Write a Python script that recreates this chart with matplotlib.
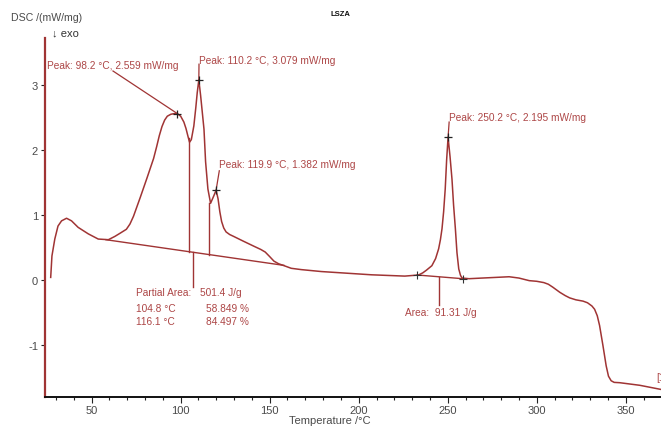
import matplotlib
matplotlib.use("Agg")
import matplotlib.pyplot as plt
from matplotlib.ticker import MultipleLocator

plt.rcParams['font.family'] = ['Liberation Sans', 'DejaVu Sans']
plt.rcParams['axes.unicode_minus'] = False

# ---------------- data ----------------
temp = [27.0, 27.7, 29.3, 31.1, 33.1, 35.9, 38.7, 42.4, 48.1, 53.7, 59.4, 63.0,
        66.0, 69.5, 71.5, 73.5, 77.3, 81.1, 84.8, 86.5, 88.0, 89.5, 91.0, 92.5,
        94.5, 96.5, 98.2, 100.0, 101.8, 103.0, 104.2, 105.0, 106.0, 107.4,
        108.5, 109.3, 110.2, 111.2, 113.1, 114.0, 115.3, 116.8, 118.7, 119.9,
        121.0, 122.0, 123.0, 124.2, 125.5, 127.5, 129.8, 135.0, 141.1, 145.0,
        147.5, 150.0, 152.4, 155.0, 158.1, 162.1, 167.7, 179.0, 207.2, 225.9,
        233.6, 236.0, 238.0, 241.1, 243.2, 244.9, 245.9, 246.8, 247.7, 248.6,
        249.4, 250.2, 251.3, 252.4, 253.3, 254.3, 255.2, 256.2, 257.2, 258.1,
        262.0, 269.4, 277.0, 284.5, 290.0, 295.8, 300.0, 304.0, 306.5, 309.0,
        311.0, 313.0, 316.0, 318.5, 322.0, 326.0, 328.5, 331.0, 332.5, 334.0,
        335.3, 337.2, 339.0, 340.3, 341.8, 343.5, 346.6, 357.9, 371.0]
dsc = [0.04, 0.37, 0.63, 0.83, 0.91, 0.95, 0.91, 0.81, 0.71, 0.63, 0.62, 0.67,
       0.72, 0.78, 0.86, 0.98, 1.27, 1.57, 1.87, 2.05, 2.22, 2.36, 2.46, 2.52,
       2.55, 2.56, 2.559, 2.52, 2.43, 2.33, 2.20, 2.12, 2.16, 2.37,
       2.65, 2.88, 3.079, 2.84, 2.32, 1.82, 1.40, 1.18, 1.30, 1.382,
       1.25, 1.05, 0.90, 0.80, 0.74, 0.70, 0.67, 0.60, 0.52, 0.47,
       0.43, 0.36, 0.29, 0.25, 0.22, 0.18, 0.16, 0.13, 0.08, 0.06,
       0.077, 0.11, 0.15, 0.22, 0.33, 0.48, 0.62, 0.79, 1.05, 1.40,
       1.85, 2.195, 1.90, 1.55, 1.15, 0.79, 0.42, 0.17, 0.07, 0.03,
       0.02, 0.03, 0.04, 0.05, 0.03, -0.01, -0.02, -0.04, -0.065, -0.11,
       -0.15, -0.19, -0.24, -0.275, -0.305, -0.325, -0.35, -0.40, -0.45, -0.55,
       -0.70, -1.01, -1.32, -1.48, -1.55, -1.575, -1.58, -1.62, -1.69]

peak_t = [98.2, 110.2, 119.9, 250.2]
peak_v = [2.559, 3.079, 1.382, 2.195]
peak_labels = ["Peak: 98.2 °C, 2.559 mW/mg", "Peak: 110.2 °C, 3.079 mW/mg",
               "Peak: 119.9 °C, 1.382 mW/mg", "Peak: 250.2 °C, 2.195 mW/mg"]
label_pos = [(24.9, 3.31), (110.3, 3.39), (121.7, 1.785), (250.8, 2.50)]
pointer_start = [(62.0, 3.215), (110.3, 3.32), (121.7, 1.68), (250.8, 2.43)]

# partial area baseline and limits
base1_t = [58.0, 158.0]
base1_v = [0.62, 0.225]
partial_t = [104.8, 116.1]
partial_curve_v = [2.18, 1.19]
partial_pct = ["58.849 %", "84.497 %"]
partial_area = "501.4 J/g"

# second area baseline
base2_t = [232.8, 258.4]
base2_v = [0.077, 0.02]
area2 = "91.31 J/g"

x_ticks = [50, 100, 150, 200, 250, 300, 350]
y_ticks = [-1, 0, 1, 2, 3]

# ---------------- style ----------------
W, H = 661, 427
curve_c = '#a03434'
text_c = '#ad4646'
tick_c = '#4a4a4a'

fig = plt.figure(figsize=(W / 100, H / 100), dpi=100)
ax = fig.add_axes([45 / W, (H - 398) / H, 1 - 45 / W, (398 - 39) / H])
ax.set_xlim(23.8, 369.8)
ax.set_ylim(-1.8, 3.723)

ax.plot(temp, dsc, color=curve_c, lw=1.1, clip_on=True, zorder=3)

# baselines
ax.plot(base1_t, base1_v, color=curve_c, lw=1.0, zorder=2)
ax.plot(base2_t, base2_v, color=curve_c, lw=1.0, zorder=2)


def base1(t):
    return base1_v[0] + (base1_v[1] - base1_v[0]) * (t - base1_t[0]) / (base1_t[1] - base1_t[0])


def base2(t):
    return base2_v[0] + (base2_v[1] - base2_v[0]) * (t - base2_t[0]) / (base2_t[1] - base2_t[0])


# partial area limit lines
for t, v in zip(partial_t, partial_curve_v):
    ax.plot([t, t], [v, base1(t)], color=curve_c, lw=1.0, zorder=2)
# pointer for partial area label
ax.plot([106.9, 106.9], [base1(106.9), -0.11], color=curve_c, lw=1.0)
# pointer for area label
ax.plot([245.3, 245.3], [base2(245.3), -0.385], color=curve_c, lw=1.0)

# peak markers and labels
for (t, v, lab, lp, ps) in zip(peak_t, peak_v, peak_labels, label_pos, pointer_start):
    ax.plot([ps[0], t], [ps[1], v], color=curve_c, lw=0.9, zorder=2)
    ax.plot(t, v, marker='+', color='#222222', ms=6, mew=0.9, zorder=5)
    ax.text(lp[0], lp[1], lab, color=text_c, fontsize=7.3, ha='left', va='center')

# area markers
for t, v in zip(base2_t, base2_v):
    ax.plot(t, v, marker='+', color='#333333', ms=6, mew=0.8, zorder=5)

# partial area texts
ax.text(74.9, -0.19, "Partial Area:", color=text_c, fontsize=7.3, ha='left', va='center')
ax.text(110.9, -0.19, partial_area, color=text_c, fontsize=7.3, ha='left', va='center')
for t, yy, pct in zip(partial_t, [-0.43, -0.63], partial_pct):
    ax.text(74.9, yy, f"{t:.1f} °C", color=text_c, fontsize=7.3, ha='left', va='center')
    ax.text(114.1, yy, pct, color=text_c, fontsize=7.3, ha='left', va='center')

ax.text(226.0, -0.49, "Area:  " + area2, color=text_c, fontsize=7.3, ha='left', va='center')

# spines
for s in ['top', 'right']:
    ax.spines[s].set_visible(False)
ax.spines['left'].set_color(curve_c)
ax.spines['left'].set_linewidth(1.6)
ax.spines['bottom'].set_color('#111111')
ax.spines['bottom'].set_linewidth(1.4)

ax.set_xticks(x_ticks)
ax.set_yticks(y_ticks)
ax.xaxis.set_minor_locator(MultipleLocator(10))
ax.tick_params(axis='x', which='major', direction='out', length=4, width=0.8,
               colors='#222222', labelcolor=tick_c, labelsize=8, pad=2)
ax.tick_params(axis='x', which='minor', direction='out', length=2, width=0.8, colors='#222222')
ax.tick_params(axis='y', which='major', direction='out', length=3, width=0.8,
               colors='#222222', labelcolor=tick_c, labelsize=8, pad=2)

# header texts
fig.text(11 / W, 1 - 18 / H, "DSC /(mW/mg)", color=tick_c, fontsize=7.6, ha='left', va='center')
fig.text(52 / W, 1 - 33 / H, "↓ exo", color='#333333', fontsize=8, ha='left', va='center')
fig.text(340 / W, 1 - 14 / H, "LSZA", color='#111111', fontsize=5.5, fontweight='bold',
         ha='center', va='center')
fig.text(330 / W, 1 - 421 / H, "Temperature /°C", color=tick_c, fontsize=8, ha='center', va='center')
fig.text(656 / W, 1 - 378 / H, "[1]", color=text_c, fontsize=7.3, ha='left', va='center')

fig.savefig("out.png", dpi=100)
